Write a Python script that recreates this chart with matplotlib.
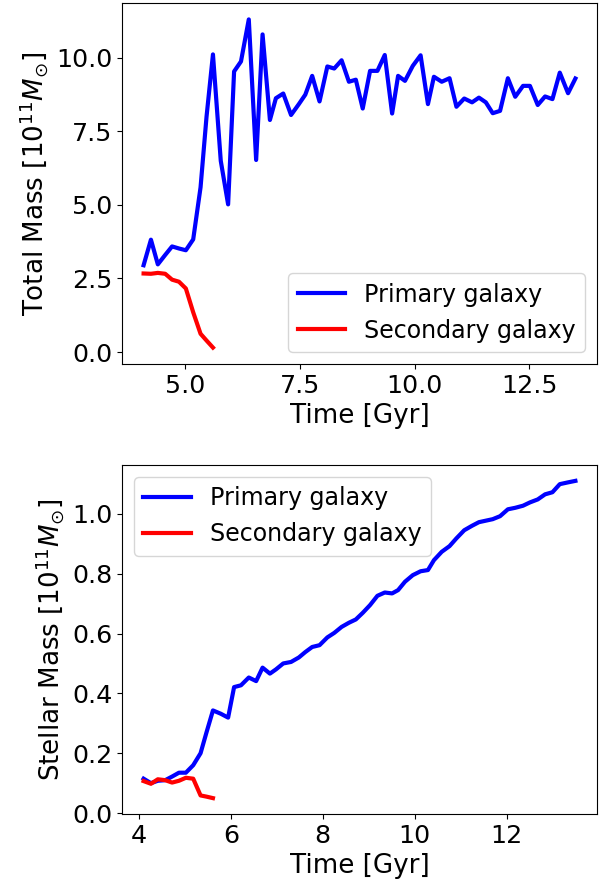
import matplotlib
matplotlib.use("Agg")
import matplotlib.pyplot as plt

# Time grid (Gyr)
time = [4.10, 4.26, 4.41, 4.57, 4.72, 4.87, 5.02, 5.18, 5.34, 5.47, 5.61,
        5.78, 5.94, 6.07, 6.22, 6.39, 6.55, 6.69, 6.85, 6.98, 7.14, 7.31,
        7.48, 7.62, 7.77, 7.93, 8.10, 8.25, 8.41, 8.57, 8.72, 8.87, 9.03,
        9.19, 9.35, 9.51, 9.64, 9.79, 9.96, 10.13, 10.29, 10.42, 10.59,
        10.76, 10.91, 11.08, 11.25, 11.40, 11.55, 11.70, 11.86, 12.03,
        12.19, 12.36, 12.51, 12.68, 12.84, 13.00, 13.16, 13.34, 13.50]

total_primary = [2.95, 3.82, 2.98, 3.30, 3.59, 3.52, 3.46, 3.83, 5.6, 8.0, 10.12,
                 6.50, 5.02, 9.54, 9.88, 11.31, 6.53, 10.80, 7.89, 8.63, 8.79, 8.06,
                 8.43, 8.75, 9.39, 8.52, 9.71, 9.64, 9.92, 9.19, 9.26, 8.28, 9.56,
                 9.56, 10.10, 8.11, 9.39, 9.22, 9.73, 10.09, 8.43, 9.36, 9.19,
                 9.31, 8.34, 8.62, 8.49, 8.65, 8.49, 8.12, 8.20, 9.31,
                 8.68, 9.05, 9.05, 8.40, 8.69, 8.60, 9.50, 8.80, 9.30]

total_secondary = [2.67, 2.66, 2.69, 2.66, 2.46, 2.39, 2.16, 1.35, 0.62, 0.39, 0.15]

stellar_primary = [0.115, 0.100, 0.108, 0.110, 0.122, 0.135, 0.135, 0.160, 0.200, 0.270, 0.343,
                   0.332, 0.319, 0.421, 0.427, 0.453, 0.441, 0.486, 0.466, 0.480, 0.500, 0.505,
                   0.520, 0.538, 0.555, 0.561, 0.587, 0.602, 0.622, 0.636, 0.647, 0.669, 0.695,
                   0.726, 0.737, 0.734, 0.745, 0.773, 0.795, 0.808, 0.812, 0.845, 0.873,
                   0.892, 0.918, 0.945, 0.960, 0.972, 0.977, 0.982, 0.992, 1.015,
                   1.020, 1.027, 1.038, 1.048, 1.065, 1.072, 1.099, 1.105, 1.110]

stellar_secondary = [0.107, 0.098, 0.113, 0.110, 0.102, 0.108, 0.118, 0.115, 0.059, 0.055, 0.050]

labels = ["Primary galaxy", "Secondary galaxy"]
top_xticks = [5.0, 7.5, 10.0, 12.5]
top_yticks = [0.0, 2.5, 5.0, 7.5, 10.0]
bot_xticks = [4, 6, 8, 10, 12]
bot_yticks = [0.0, 0.2, 0.4, 0.6, 0.8, 1.0]

W, H = 606, 882
fig = plt.figure(figsize=(W / 100, H / 100), dpi=100)

def box(l, r, t, b):
    return [l / W, 1 - b / H, (r - l) / W, (b - t) / H]

ax1 = fig.add_axes(box(122, 597, 3, 364))
ax2 = fig.add_axes(box(122, 597, 465, 814))

n2 = len(total_secondary)
ax1.plot(time, total_primary, color="b", lw=3, label=labels[0])
ax1.plot(time[:n2], total_secondary, color="r", lw=3, label=labels[1])
ax1.set_xticks(top_xticks)
ax1.set_yticks(top_yticks)
ax1.set_xlabel("Time [Gyr]", fontsize=18.8)
ax1.set_ylabel(r"Total Mass [$10^{11}M_{\odot}$]", fontsize=18.8)
ax1.tick_params(labelsize=18.3)
ax1.legend(loc="lower right", fontsize=17.1)

ax2.plot(time, stellar_primary, color="b", lw=3, label=labels[0])
ax2.plot(time[:n2], stellar_secondary, color="r", lw=3, label=labels[1])
ax2.set_xticks(bot_xticks)
ax2.set_yticks(bot_yticks)
ax2.set_xlabel("Time [Gyr]", fontsize=18.8)
ax2.set_ylabel(r"Stellar Mass [$10^{11}M_{\odot}$]", fontsize=18.8)
ax2.tick_params(labelsize=18.3)
ax2.legend(loc="upper left", fontsize=17.1)

fig.savefig("out.png", dpi=100)
